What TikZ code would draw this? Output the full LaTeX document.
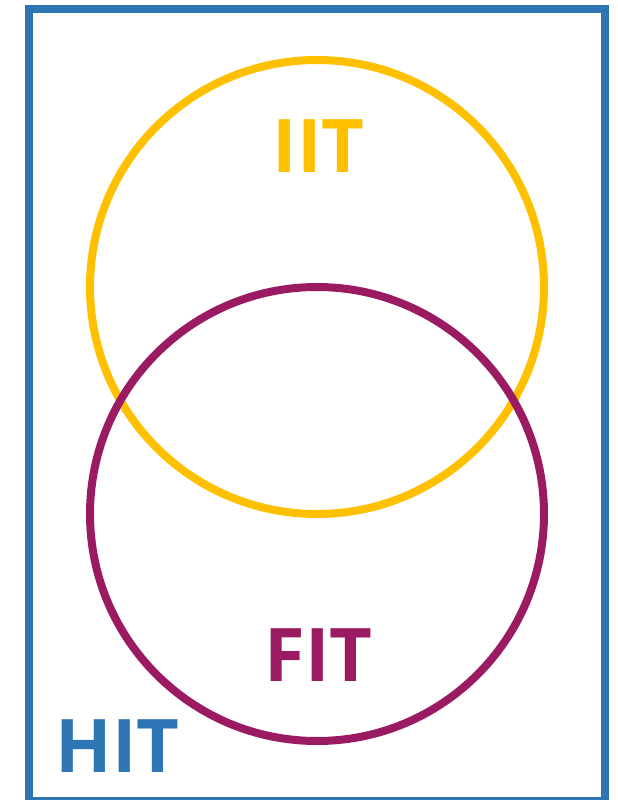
\documentclass[tikz,border=0pt]{standalone}
\usepackage{fontspec}
\setmainfont{Open Sans}
\definecolor{hitblue}{HTML}{2E75B6}
\definecolor{iityellow}{HTML}{FFC000}
\definecolor{fitpurple}{HTML}{9B1B62}
\begin{document}
\begin{tikzpicture}[x=1pt,y=-1pt,
  ring/.style={circle,draw,line width=8pt,minimum size=454pt,inner sep=0pt},
  lbl/.style={font=\fontsize{74}{74}\selectfont\bfseries,anchor=base,inner sep=0pt}]
\useasboundingbox (0,0) rectangle (618,800);
\draw[hitblue,line width=8pt] (29,9) rectangle (605,801);
\node[ring,draw=iityellow] (iit) at (317,287) {};
\node[ring,draw=fitpurple] (fit) at (317,514) {};
\node[lbl,text=iityellow] (iitl) at (318.5,172) {IIT};
\node[lbl,text=fitpurple] (fitl) at (318.5,681) {FIT};
\node[lbl,text=hitblue] (hitl) at (117.5,772) {HIT};
\end{tikzpicture}
\end{document}
